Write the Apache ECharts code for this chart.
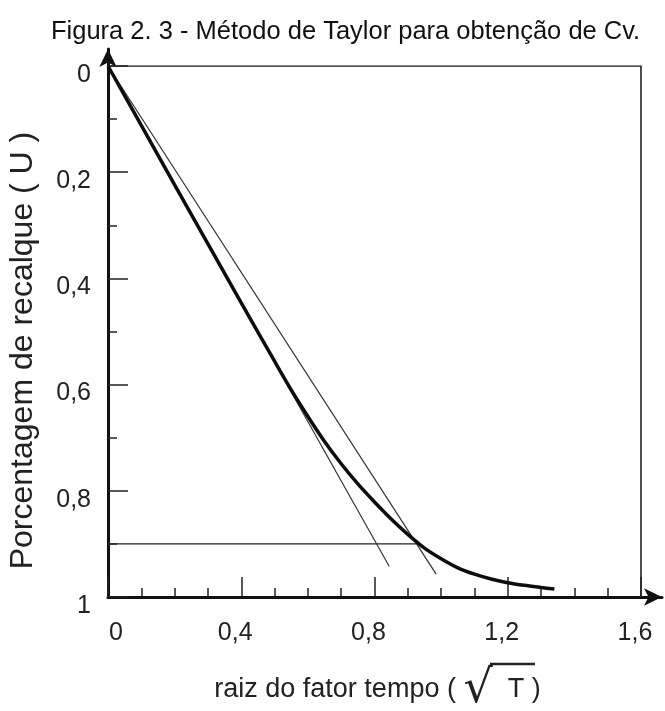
<!DOCTYPE html>
<html>
<head>
<meta charset="utf-8">
<script src="https://cdn.jsdelivr.net/npm/echarts@6/dist/echarts.min.js"></script>
<style>
  html, body { margin: 0; padding: 0; background: #fff; }
  #main { width: 665px; height: 711px; }
</style>
</head>
<body>
<div id="main"></div>
<script>
var titleText = 'Figura 2. 3 - Método de Taylor para obtenção de Cv.';
var xName = 'raiz do fator tempo';
var yName = 'Porcentagem de recalque ( U )';

// curva de recalque: raiz de T x U
var curveX = [0, 0.1, 0.2, 0.3, 0.4, 0.5, 0.55, 0.6, 0.65, 0.7, 0.75, 0.8, 0.85, 0.9, 0.95, 1.0, 1.05, 1.1, 1.15, 1.2, 1.25, 1.3, 1.34];
var curveU = [0, 0.112, 0.224, 0.335, 0.446, 0.556, 0.61, 0.66, 0.707, 0.749, 0.787, 0.821, 0.853, 0.882, 0.908, 0.928, 0.945, 0.957, 0.966, 0.973, 0.978, 0.982, 0.985];

// retas do metodo de Taylor
var line1X = [0, 0.844];
var line1U = [0, 0.942];
var line2X = [0, 0.985];
var line2U = [0, 0.957];
// U = 90%
var hLineX = [0, 0.925];
var hLineU = [0.9, 0.9];
// moldura
var frameX = [0, 1.6, 1.6];
var frameU = [0, 0, 1];

function pairs(xs, ys) {
  var out = [];
  for (var i = 0; i < xs.length; i++) out.push([xs[i], ys[i]]);
  return out;
}
function virgula(v) {
  return String(v).replace('.', ',');
}

var chart = echarts.init(document.getElementById('main'));

var option = {
  backgroundColor: '#fff',
  animation: false,
  title: {
    text: titleText,
    left: 46,
    top: 14,
    textStyle: { fontFamily: 'Liberation Sans', fontSize: 25.5, fontWeight: 'normal', color: '#111' }
  },
  grid: [
    { left: 108, right: 24, top: 66, bottom: 114, outerBoundsMode: 'none' },
    { left: 108, right: 3, top: 49, bottom: 114, outerBoundsMode: 'none' }
  ],
  xAxis: [
    {
      type: 'value', gridIndex: 0, min: 0, max: 1.6, interval: 0.4, position: 'bottom',
      axisLine: { show: false, onZero: false },
      splitLine: { show: false },
      axisTick: { show: true, inside: true, length: 20, lineStyle: { color: '#222', width: 1.5 } },
      minorTick: { show: true, splitNumber: 4, length: 9, lineStyle: { color: '#222', width: 1.5 } },
      axisLabel: {
        margin: 24, fontFamily: 'Liberation Sans', fontSize: 25, color: '#222',
        padding: [0, 12, 0, 0],
        formatter: function (v) { return v === 0 ? '{z|0}' : virgula(v); },
        rich: { z: { fontFamily: 'Liberation Sans', fontSize: 25, color: '#222', padding: [0, 0, 0, 28] } }
      },
      name: '{a|' + xName + ' ( }{r|√}{t|  T }{a|)}',
      nameLocation: 'middle',
      nameGap: 70,
      nameTextStyle: {
        padding: [0, 0, 0, 6],
        rich: {
          a: { fontFamily: 'Liberation Sans', fontSize: 27, color: '#222' },
          r: { fontFamily: 'DejaVu Sans', fontSize: 46, color: '#222' },
          t: { fontFamily: 'Liberation Sans', fontSize: 27, color: '#222' }
        }
      }
    },
    {
      type: 'value', gridIndex: 1, min: 0, max: 1,
      axisLine: { show: true, symbol: ['none', 'arrow'], symbolSize: [13, 18], lineStyle: { color: '#111', width: 3 } },
      axisTick: { show: false }, axisLabel: { show: false }, splitLine: { show: false }
    }
  ],
  yAxis: [
    {
      type: 'value', gridIndex: 0, min: 0, max: 1, interval: 0.2, inverse: true,
      axisLine: { show: false, onZero: false },
      splitLine: { show: false },
      axisTick: { show: true, inside: true, length: 20, lineStyle: { color: '#222', width: 1.5 } },
      minorTick: { show: true, splitNumber: 2, length: 9, lineStyle: { color: '#222', width: 1.5 } },
      axisLabel: {
        margin: 17, fontFamily: 'Liberation Sans', fontSize: 25, color: '#222',
        verticalAlign: 'top', lineHeight: 18, formatter: virgula
      },
      name: yName,
      nameLocation: 'middle',
      nameRotate: 90,
      nameGap: 69,
      nameTextStyle: {
        fontFamily: 'Liberation Sans', fontSize: 32, color: '#222',
        padding: [0, 38, 0, 0]
      }
    },
    {
      type: 'value', gridIndex: 1, min: 0, max: 1,
      axisLine: { show: true, symbol: ['none', 'arrow'], symbolSize: [13, 18], lineStyle: { color: '#111', width: 3 } },
      axisTick: { show: false }, axisLabel: { show: false }, splitLine: { show: false }
    }
  ],
  graphic: [
    // barra do radical
    { type: 'line', shape: { x1: 490, y1: 664, x2: 535, y2: 664 }, style: { stroke: '#222', lineWidth: 2.5 } }
  ],
  series: [
    {
      type: 'line', xAxisIndex: 0, yAxisIndex: 0, data: pairs(frameX, frameU),
      showSymbol: false, lineStyle: { color: '#222', width: 1.6 }, z: 1
    },
    {
      type: 'line', xAxisIndex: 0, yAxisIndex: 0, data: pairs(hLineX, hLineU),
      showSymbol: false, lineStyle: { color: '#222', width: 1.2 }, z: 2
    },
    {
      type: 'line', xAxisIndex: 0, yAxisIndex: 0, data: pairs(line1X, line1U),
      showSymbol: false, lineStyle: { color: '#333', width: 1.2 }, z: 2
    },
    {
      type: 'line', xAxisIndex: 0, yAxisIndex: 0, data: pairs(line2X, line2U),
      showSymbol: false, lineStyle: { color: '#333', width: 1.2 }, z: 2
    },
    {
      type: 'line', xAxisIndex: 0, yAxisIndex: 0, data: pairs(curveX, curveU),
      smooth: 0.3, showSymbol: false, lineStyle: { color: '#0d0d0d', width: 3.5 }, z: 3
    }
  ]
};

chart.setOption(option);
</script>
</body>
</html>
